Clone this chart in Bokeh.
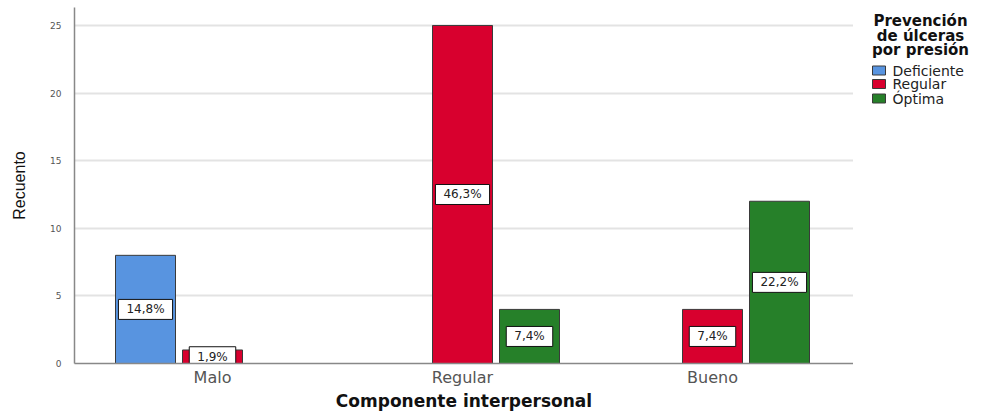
from bokeh.plotting import figure
from bokeh.models import ColumnDataSource, FixedTicker, Range1d
from bokeh.layouts import row
from bokeh.core.properties import value
from bokeh.embed import file_html
from bokeh.resources import INLINE

# ---- data ----
categories = ["Malo", "Regular", "Bueno"]
series = ["Deficiente", "Regular", "Óptima"]
deficiente = [8, 0, 0]
regular = [1, 25, 4]
optima = [0, 4, 12]
deficiente_pct = ["14,8%", "", ""]
regular_pct = ["1,9%", "46,3%", "7,4%"]
optima_pct = ["", "7,4%", "22,2%"]
legend_title = ["Prevención", "de úlceras", "por presión"]

colors = ["#5894E0", "#D8002E", "#268029"]
values = [deficiente, regular, optima]
pcts = [deficiente_pct, regular_pct, optima_pct]
offsets = [-0.268, 0.0, 0.268]

FONT = "DejaVu Sans"

p = figure(width=853, height=416, output_backend="svg", toolbar_location=None,
           x_range=Range1d(-0.552, 2.564), y_range=Range1d(0, 26.33),
           min_border_left=74, min_border_right=0, min_border_top=7,
           min_border_bottom=53)
p.outline_line_color = None
p.background_fill_color = "white"

label_sources = []
for s, vals, pc, col, off in zip(series, values, pcts, colors, offsets):
    xs, tops, labs = [], [], []
    for i, (v, t) in enumerate(zip(vals, pc)):
        if v > 0:
            xs.append(i + off)
            tops.append(v)
            labs.append(t)
    src = ColumnDataSource(dict(x=xs, top=tops, mid=[t / 2 for t in tops], lab=labs))
    p.vbar(x="x", top="top", width=0.24, bottom=0, source=src,
           fill_color=col, line_color="#3a3a3a", line_width=1)
    label_sources.append(src)

for src in label_sources:
    p.text(x="x", y="mid", text="lab", source=src,
           text_align="center", text_baseline="middle",
           text_font=value(FONT), text_font_size="12px", text_color="#222222",
           background_fill_color="white", border_line_color="#111111",
           border_line_width=1, padding=dict(left=8, right=8, top=3, bottom=3))

# grid
p.xgrid.grid_line_color = None
p.ygrid.grid_line_color = "#e3e3e3"
p.ygrid.grid_line_width = 2
p.ygrid.ticker = FixedTicker(ticks=[5, 10, 15, 20, 25])

# y axis
p.yaxis.ticker = FixedTicker(ticks=[0, 5, 10, 15, 20, 25])
p.yaxis.major_tick_out = 0
p.yaxis.major_tick_in = 0
p.yaxis.minor_tick_out = 0
p.yaxis.minor_tick_in = 0
p.yaxis.axis_line_color = "#888888"
p.yaxis.axis_line_width = 1.5
p.yaxis.major_label_text_font = FONT
p.yaxis.major_label_text_font_size = "9px"
p.yaxis.major_label_text_color = "#555555"
p.yaxis.major_label_standoff = 13
p.yaxis.axis_label = "Recuento"
p.yaxis.axis_label_text_font = "Liberation Sans"
p.yaxis.axis_label_text_font_style = "normal"
p.yaxis.axis_label_text_font_size = "16px"
p.yaxis.axis_label_text_color = "#111111"
p.yaxis.axis_label_standoff = 19

# x axis
p.xaxis.ticker = FixedTicker(ticks=[0, 1, 2])
p.xaxis.major_label_overrides = {0: categories[0], 1: categories[1], 2: categories[2]}
p.xaxis.major_tick_out = 0
p.xaxis.major_tick_in = 0
p.xaxis.minor_tick_out = 0
p.xaxis.minor_tick_in = 0
p.xaxis.axis_line_color = "#888888"
p.xaxis.axis_line_width = 1.5
p.xaxis.major_label_text_font = FONT
p.xaxis.major_label_text_font_size = "16px"
p.xaxis.major_label_text_color = "#555555"
p.xaxis.major_label_standoff = 4
p.xaxis.axis_label = "Componente interpersonal"
p.xaxis.axis_label_text_font = FONT
p.xaxis.axis_label_text_font_style = "bold"
p.xaxis.axis_label_text_font_size = "17px"
p.xaxis.axis_label_text_color = "#111111"
p.xaxis.axis_label_standoff = 1

# ---- legend panel: frame aligned with main frame (top 7, bottom 363),
# y coordinate = 416 - pixel row ----
lg = figure(width=130, height=416, output_backend="svg", toolbar_location=None,
            x_range=Range1d(0, 130), y_range=Range1d(53, 409),
            x_axis_type=None, y_axis_type=None, min_border=0)
lg.grid.visible = False
lg.outline_line_color = None
lg.background_fill_color = "white"

lg.text(x=[67, 67, 67], y=[395.5, 381, 367], text=legend_title,
        text_align="center", text_baseline="middle",
        text_font=value(FONT), text_font_style="bold",
        text_font_size="15px", text_color="#111111")

item_y = [346, 332.5, 318]
lg.quad(left=[19] * 3, right=[32] * 3, top=[y + 4.5 for y in item_y],
        bottom=[y - 4.5 for y in item_y], fill_color=colors,
        line_color="#3a3a3a", line_width=1)
lg.text(x=[39] * 3, y=item_y, text=series, text_align="left",
        text_baseline="middle", text_font=value(FONT),
        text_font_size="14px", text_color="#222222")

layout = row(p, lg)
open("out.html", "w").write(file_html(layout, INLINE))
